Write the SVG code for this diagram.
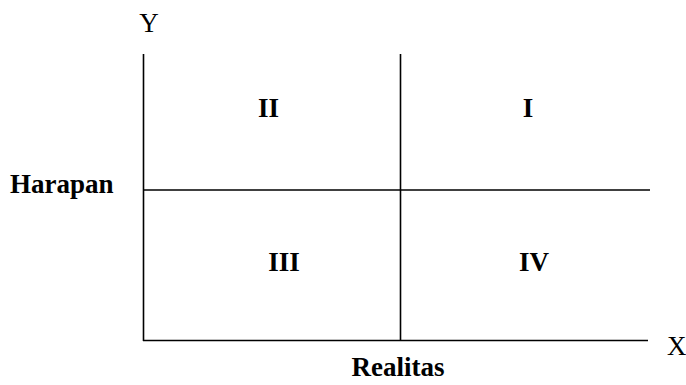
<svg xmlns="http://www.w3.org/2000/svg" width="686" height="385" viewBox="0 0 686 385">
<style>
.ln{stroke:#000;stroke-width:1.6;fill:none}
.t{font-family:"Liberation Serif","Times New Roman",serif;font-size:27px;fill:#000}
.b{font-weight:bold}
</style>
<rect width="686" height="385" fill="#fff"/>
<g id="connectors">
<line class="ln" x1="143.5" y1="54" x2="143.5" y2="341"/>
<line class="ln" x1="143" y1="340.5" x2="648" y2="340.5"/>
<line class="ln" x1="143" y1="190" x2="650" y2="190"/>
<line class="ln" x1="400.5" y1="54" x2="400.5" y2="340"/>
</g>
<g id="axis-y"><text class="t" x="149" y="32" text-anchor="middle">Y</text></g>
<g id="axis-x"><text class="t" x="667" y="355">X</text></g>
<g id="harapan"><text class="t b" x="10" y="193">Harapan</text></g>
<g id="realitas"><text class="t b" x="398" y="376" text-anchor="middle">Realitas</text></g>
<g id="q2"><text class="t b" x="268.5" y="117" text-anchor="middle">II</text></g>
<g id="q1"><text class="t b" x="528" y="117" text-anchor="middle">I</text></g>
<g id="q3"><text class="t b" x="284" y="271" text-anchor="middle">III</text></g>
<g id="q4"><text class="t b" x="534" y="271" text-anchor="middle">IV</text></g>
</svg>
